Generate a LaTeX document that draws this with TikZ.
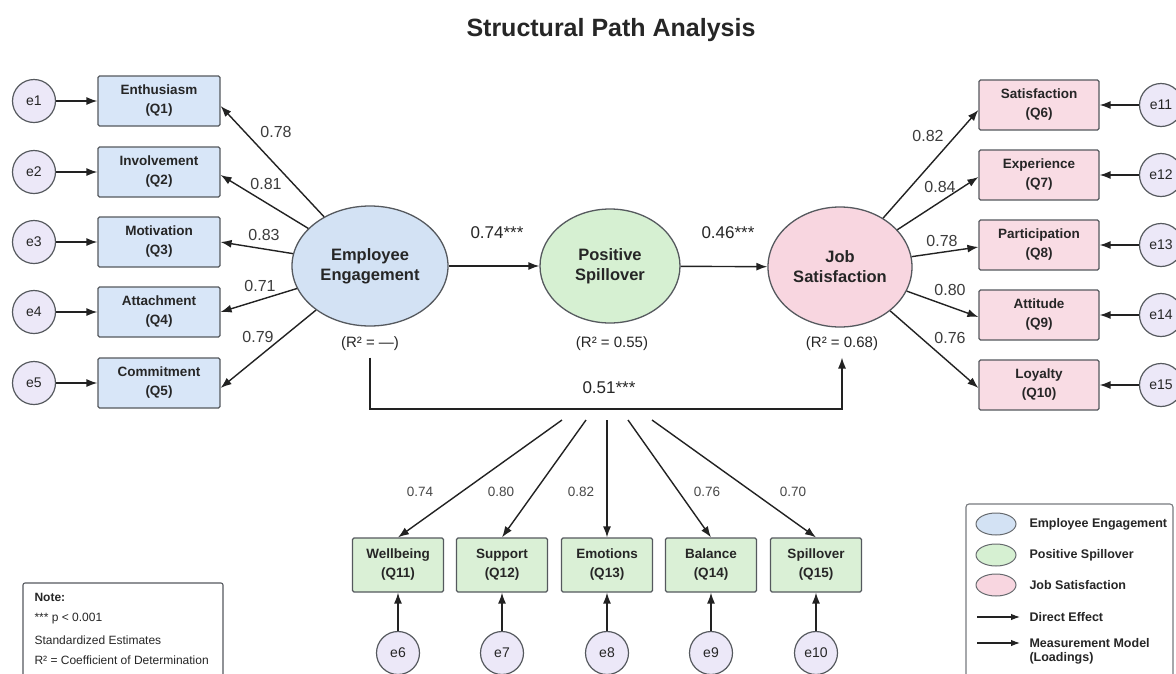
\documentclass[tikz,border=0pt]{standalone}
\usepackage{fontspec}
\setmainfont{Liberation Sans}
\usetikzlibrary{shapes.geometric,arrows.meta,calc}
\definecolor{txt}{HTML}{262626}
\definecolor{bord}{HTML}{55595E}
\definecolor{bluefill}{HTML}{D8E6F8}
\definecolor{blueell}{HTML}{D3E2F4}
\definecolor{greenfill}{HTML}{DAF0D6}
\definecolor{greenell}{HTML}{D6F0D2}
\definecolor{pinkfill}{HTML}{F9DCE4}
\definecolor{pinkell}{HTML}{F8D6E0}
\definecolor{errfill}{HTML}{ECE8F8}
\definecolor{linec}{HTML}{222222}
\begin{document}
\begin{tikzpicture}[x=1pt,y=-1pt,
  every node/.style={text=txt},
  latent/.style={ellipse, draw=bord, line width=1.3pt, inner sep=0pt, align=center,
     font=\fontsize{16.5}{20}\selectfont\bfseries},
  indbox/.style={rectangle, rounded corners=1.5pt, draw=bord, line width=1.2pt, inner sep=0pt,
     align=center, font=\fontsize{13.5}{19}\selectfont\bfseries},
  bluebox/.style={indbox, fill=bluefill, minimum width=122pt, minimum height=50pt},
  pinkbox/.style={indbox, fill=pinkfill, minimum width=120pt, minimum height=50pt},
  greenbox/.style={indbox, fill=greenfill, minimum width=91pt, minimum height=54pt},
  errc/.style={circle, draw=bord, line width=1.2pt, fill=errfill, minimum size=43pt, inner sep=0pt,
     font=\fontsize{14}{16}\selectfont},
  arr/.style={draw=linec, line width=1.4pt, -{Latex[length=11pt,width=8pt]}},
  load/.style={font=\fontsize{16}{18}\selectfont, text=txt!90},
  bload/.style={font=\fontsize{13.5}{15}\selectfont, text=txt!85},
  coef/.style={font=\fontsize{17}{19}\selectfont},
  rsq/.style={font=\fontsize{15}{17}\selectfont},
  legtext/.style={anchor=west, font=\fontsize{12.5}{14}\selectfont\bfseries, align=left},
  notetext/.style={anchor=west, font=\fontsize{12}{14}\selectfont}
]
\useasboundingbox (0,0) rectangle (1176,673);
\clip (0,0) rectangle (1176,673);
\fill[white] (0,0) rectangle (1176,673);

% title
\node[font=\fontsize{25}{29}\selectfont\bfseries, text=txt] (title) at (611,30) {Structural Path Analysis};

% latent variables
\node[latent, fill=blueell, minimum width=156pt, minimum height=120pt] (EE) at (370,266) {Employee\\Engagement};
\node[latent, fill=greenell, minimum width=140pt, minimum height=114pt] (PS) at (610,266) {Positive\\Spillover};
\node[latent, fill=pinkell, minimum width=144pt, minimum height=120pt] (JS) at (840,267) {Job\\Satisfaction};

\node[rsq] (rEE) at (370,344) {(R² = —)};
\node[rsq] (rPS) at (612,344) {(R² = 0.55)};
\node[rsq] (rJS) at (842,344) {(R² = 0.68)};

% left indicators
\node[bluebox] (q1) at (159,101) {Enthusiasm\\(Q1)};
\node[bluebox] (q2) at (159,172) {Involvement\\(Q2)};
\node[bluebox] (q3) at (159,242) {Motivation\\(Q3)};
\node[bluebox] (q4) at (159,312) {Attachment\\(Q4)};
\node[bluebox] (q5) at (159,383) {Commitment\\(Q5)};
\node[errc] (e1) at (34,101) {e1};
\node[errc] (e2) at (34,172) {e2};
\node[errc] (e3) at (34,242) {e3};
\node[errc] (e4) at (34,312) {e4};
\node[errc] (e5) at (34,383) {e5};
\foreach \i in {1,...,5} {\draw[arr] (e\i) -- (q\i);}
\draw[arr] (EE) -- ($(q1.east)+(0,5)$);
\draw[arr] (EE) -- ($(q2.east)+(0,3)$);
\draw[arr] (EE) -- (q3.east);
\draw[arr] (EE) -- (q4.east);
\draw[arr] (EE) -- ($(q5.east)+(0,5)$);
\node[load] (l1) at (276,132) {0.78};
\node[load] (l2) at (266,184) {0.81};
\node[load] (l3) at (264,235) {0.83};
\node[load] (l4) at (260,286) {0.71};
\node[load] (l5) at (258,337) {0.79};

% right indicators
\node[pinkbox] (q6) at (1039,105) {Satisfaction\\(Q6)};
\node[pinkbox] (q7) at (1039,175) {Experience\\(Q7)};
\node[pinkbox] (q8) at (1039,245) {Participation\\(Q8)};
\node[pinkbox] (q9) at (1039,315) {Attitude\\(Q9)};
\node[pinkbox] (q10) at (1039,385) {Loyalty\\(Q10)};
\node[errc] (e11) at (1161,105) {e11};
\node[errc] (e12) at (1161,175) {e12};
\node[errc] (e13) at (1161,245) {e13};
\node[errc] (e14) at (1161,315) {e14};
\node[errc] (e15) at (1161,385) {e15};
\draw[arr] (e11) -- (q6);
\draw[arr] (e12) -- (q7);
\draw[arr] (e13) -- (q8);
\draw[arr] (e14) -- (q9);
\draw[arr] (e15) -- (q10);
\draw[arr] (JS) -- ($(q6.west)+(0,5)$);
\draw[arr] (JS) -- ($(q7.west)+(0,2)$);
\draw[arr] (JS) -- ($(q8.west)+(0,2)$);
\draw[arr] (JS) -- ($(q9.west)+(0,2)$);
\draw[arr] (JS) -- ($(q10.west)+(0,3)$);
\node[load] (l6) at (928,136) {0.82};
\node[load] (l7) at (940,187) {0.84};
\node[load] (l8) at (942,241) {0.78};
\node[load] (l9) at (950,290) {0.80};
\node[load] (l10) at (950,338) {0.76};

% structural paths
\draw[arr] (EE) -- (PS);
\draw[arr] (PS) -- (JS);
\node[coef] (c1) at (497,233) {0.74***};
\node[coef] (c2) at (728,233) {0.46***};
\coordinate (bus) at (610,409);
\draw[arr, shorten <=3pt, shorten >=3pt] (rEE.south) |- (bus) -| (rJS.south);
\node[coef] (c3) at (609,388) {0.51***};

% bottom indicators
\node[greenbox] (q11) at (398,565) {Wellbeing\\(Q11)};
\node[greenbox] (q12) at (502,565) {Support\\(Q12)};
\node[greenbox] (q13) at (607,565) {Emotions\\(Q13)};
\node[greenbox] (q14) at (711,565) {Balance\\(Q14)};
\node[greenbox] (q15) at (816,565) {Spillover\\(Q15)};
\coordinate (f1) at (562,420);
\coordinate (f2) at (586,420);
\coordinate (f3) at (607,420);
\coordinate (f4) at (628,420);
\coordinate (f5) at (652,420);
\foreach \i/\q in {1/11,2/12,3/13,4/14,5/15} {\draw[arr] (f\i) -- (q\q.north);}
\node[bload] (l11) at (420,492) {0.74};
\node[bload] (l12) at (501,492) {0.80};
\node[bload] (l13) at (581,492) {0.82};
\node[bload] (l14) at (707,492) {0.76};
\node[bload] (l15) at (793,492) {0.70};
\node[errc] (e6) at (398,653) {e6};
\node[errc] (e7) at (502,653) {e7};
\node[errc] (e8) at (607,653) {e8};
\node[errc] (e9) at (711,653) {e9};
\node[errc] (e10) at (816,653) {e10};
\foreach \i/\q in {6/11,7/12,8/13,9/14,10/15} {\draw[arr] (e\i) -- (q\q);}

% note box
\draw[draw=bord, line width=1.1pt, fill=white, rounded corners=2pt] (23,583) rectangle (223,700);
\node[notetext, font=\fontsize{12}{14}\selectfont\bfseries] (n1) at (31,597) {Note:};
\node[notetext] (n2) at (31,619) {*** p < 0.001};
\node[notetext] (n3) at (31,640) {Standardized Estimates};
\node[notetext] (n4) at (31,660) {R² = Coefficient of Determination};

% legend
\draw[draw=bord!80, line width=1.1pt, fill=white, rounded corners=3pt] (966,504) rectangle (1173,700);
\node[ellipse, draw=bord!90, line width=1pt, fill=blueell, minimum width=40pt, minimum height=22pt] (g1) at (996,524) {};
\node[ellipse, draw=bord!90, line width=1pt, fill=greenell, minimum width=40pt, minimum height=22pt] (g2) at (996,555) {};
\node[ellipse, draw=bord!90, line width=1pt, fill=pinkell, minimum width=40pt, minimum height=22pt] (g3) at (996,585) {};
\node[legtext] (t1) at (1026,524) {Employee Engagement};
\node[legtext] (t2) at (1026,555) {Positive Spillover};
\node[legtext] (t3) at (1026,585) {Job Satisfaction};
\coordinate (a1s) at (977,617);
\coordinate (a1e) at (1020,617);
\coordinate (a2s) at (977,643);
\coordinate (a2e) at (1020,643);
\draw[draw=linec, line width=1.1pt, -{Latex[length=9pt,width=6.5pt]}] (a1s) -- (a1e);
\draw[draw=linec, line width=1.1pt, -{Latex[length=9pt,width=6.5pt]}] (a2s) -- (a2e);
\node[legtext] (t4) at (1026,617) {Direct Effect};
\node[legtext, anchor=north west] (t5) at (1026,635) {Measurement Model\\(Loadings)};
\end{tikzpicture}
\end{document}
